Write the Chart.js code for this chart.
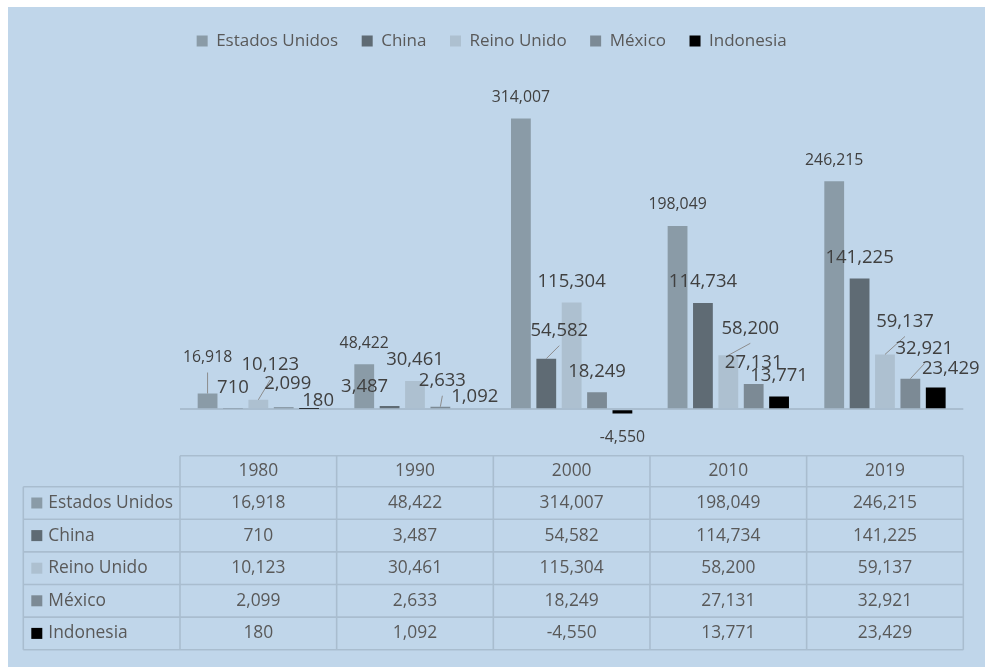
<!DOCTYPE html>
<html>
<head>
<meta charset="utf-8">
<script src="https://cdn.jsdelivr.net/npm/chart.js@4"></script>
<style>
  html, body { margin: 0; padding: 0; background: #fff; }
  #wrap { position: absolute; left: 8px; top: 7px; width: 977px; height: 660px; background: #c0d6ea; }
</style>
</head>
<body>
<div id="wrap"><canvas id="grafico"></canvas></div>
<script>
const anos = ["1980", "1990", "2000", "2010", "2019"];
const paises = ["Estados Unidos", "China", "Reino Unido", "México", "Indonesia"];
const estadosUnidos = [16918, 48422, 314007, 198049, 246215];
const china = [710, 3487, 54582, 114734, 141225];
const reinoUnido = [10123, 30461, 115304, 58200, 59137];
const mexico = [2099, 2633, 18249, 27131, 32921];
const indonesia = [180, 1092, -4550, 13771, 23429];

const cores = ["#8a9ba7", "#5f6b74", "#adc0d0", "#7c8a95", "#000000"];
const fonte = "'Open Sans', sans-serif";
const corTexto = "#595959";
const corGrade = "#a9bdcf";

// ajustes manuais dos rótulos ("serie,ano"), como no gráfico original
const ajusteRotulo = {
  "0,0": { dx: 0, dy: -36, linha: true },
  "2,0": { dx: 12, dy: -35, linha: true },
  "3,0": { dx: 4, dy: -24 },
  "4,0": { dx: 9, dy: -8 },
  "1,1": { dx: -25, dy: -19 },
  "3,1": { dx: 2, dy: -26, linha: true },
  "4,1": { dx: 9, dy: -11 },
  "1,2": { dx: 13, dy: -28, linha: true },
  "2,3": { dx: 22, dy: -27, linha: true },
  "2,4": { dx: 20, dy: -33, linha: true },
  "3,4": { dx: 14, dy: -30, linha: true },
  "4,4": { dx: 15, dy: -19 }
};

const fmt = v => v.toLocaleString("en-US");

const series = [estadosUnidos, china, reinoUnido, mexico, indonesia];

// espaço extra abaixo da legenda
const espacoLegenda = {
  id: "espacoLegenda",
  beforeInit(chart) {
    const fit = chart.legend.fit;
    chart.legend.fit = function () {
      fit.call(this);
      this.height += 35;
    };
  }
};

const rotulos = {
  id: "rotulos",
  afterDatasetsDraw(chart) {
    const ctx = chart.ctx;
    ctx.save();
    ctx.textAlign = "center";
    ctx.textBaseline = "middle";
    chart.data.datasets.forEach((ds, d) => {
      chart.getDatasetMeta(d).data.forEach((bar, i) => {
        const v = ds.data[i];
        const aj = ajusteRotulo[d + "," + i] || {};
        const pequeno = d === 0 || v < 0;
        const x = bar.x + (aj.dx || 0);
        const y = bar.y + (aj.dy !== undefined ? aj.dy : (v < 0 ? 24 : -21));
        if (aj.linha) {
          ctx.strokeStyle = "#8c8c8c";
          ctx.lineWidth = 1;
          ctx.beginPath();
          ctx.moveTo(x, y + 15);
          ctx.lineTo(bar.x, bar.y);
          ctx.stroke();
        }
        ctx.font = (pequeno ? "15.8px " : "18.5px ") + fonte;
        ctx.fillStyle = "#404040";
        ctx.fillText(fmt(v), x, y);
      });
    });
    ctx.restore();
  }
};

const tabela = {
  id: "tabela",
  afterDraw(chart) {
    const ctx = chart.ctx;
    const xs = chart.scales.x;
    const area = chart.chartArea;
    const larg = xs.getPixelForValue(1) - xs.getPixelForValue(0);
    const esq = area.left, dir = area.right;
    const x0 = 15.3;
    const topo = area.bottom + 9.5;
    const hCab = 31, hLin = 32.6;
    const base = topo + hCab + hLin * paises.length;

    ctx.save();
    ctx.strokeStyle = corGrade;
    ctx.lineWidth = 1.6;
    ctx.beginPath();
    // linhas horizontais
    ctx.moveTo(esq, topo); ctx.lineTo(dir, topo);
    for (let r = 0; r <= paises.length; r++) {
      const y = topo + hCab + r * hLin;
      ctx.moveTo(x0, y); ctx.lineTo(dir, y);
    }
    // linhas verticais
    ctx.moveTo(x0, topo + hCab); ctx.lineTo(x0, base);
    for (let c = 0; c <= anos.length; c++) {
      const x = esq + c * larg;
      ctx.moveTo(x, topo); ctx.lineTo(x, base);
    }
    ctx.stroke();

    ctx.font = "17.4px " + fonte;
    ctx.fillStyle = corTexto;
    ctx.textBaseline = "middle";
    ctx.textAlign = "center";
    anos.forEach((a, c) => {
      ctx.fillText(a, xs.getPixelForValue(c), topo + hCab / 2);
    });
    series.forEach((s, r) => {
      const y = topo + hCab + r * hLin + hLin / 2;
      s.forEach((v, c) => {
        ctx.fillText(fmt(v), xs.getPixelForValue(c), y);
      });
    });
    ctx.textAlign = "left";
    paises.forEach((p, r) => {
      const y = topo + hCab + r * hLin + hLin / 2;
      ctx.fillStyle = cores[r];
      ctx.fillRect(x0 + 8, y - 5.5, 11, 11);
      ctx.fillStyle = corTexto;
      ctx.fillText(p, x0 + 25, y);
    });
    ctx.restore();
  }
};

new Chart(document.getElementById("grafico"), {
  type: "bar",
  data: {
    labels: anos,
    datasets: paises.map((p, i) => ({
      label: p,
      data: series[i],
      backgroundColor: cores[i],
      borderWidth: 0,
      barPercentage: 0.78,
      categoryPercentage: 0.81
    }))
  },
  options: {
    responsive: true,
    maintainAspectRatio: false,
    animation: false,
    layout: { padding: { top: 2, left: 12, right: 21.7, bottom: 220.8 } },
    plugins: {
      tooltip: { enabled: false },
      legend: {
        position: "top",
        labels: {
          boxWidth: 11,
          boxHeight: 11,
          padding: 23.5,
          color: corTexto,
          font: { family: fonte, size: 17 }
        }
      }
    },
    scales: {
      x: { display: false },
      y: {
        min: -40000,
        max: 340000,
        ticks: { display: false, stepSize: 20000 },
        grid: {
          drawTicks: false,
          lineWidth: 2,
          color: c => c.tick && c.tick.value === 0 ? corGrade : "transparent"
        },
        border: { display: false },
        afterFit: s => { s.width = 160; }
      }
    }
  },
  plugins: [espacoLegenda, rotulos, tabela]
});
</script>
</body>
</html>
